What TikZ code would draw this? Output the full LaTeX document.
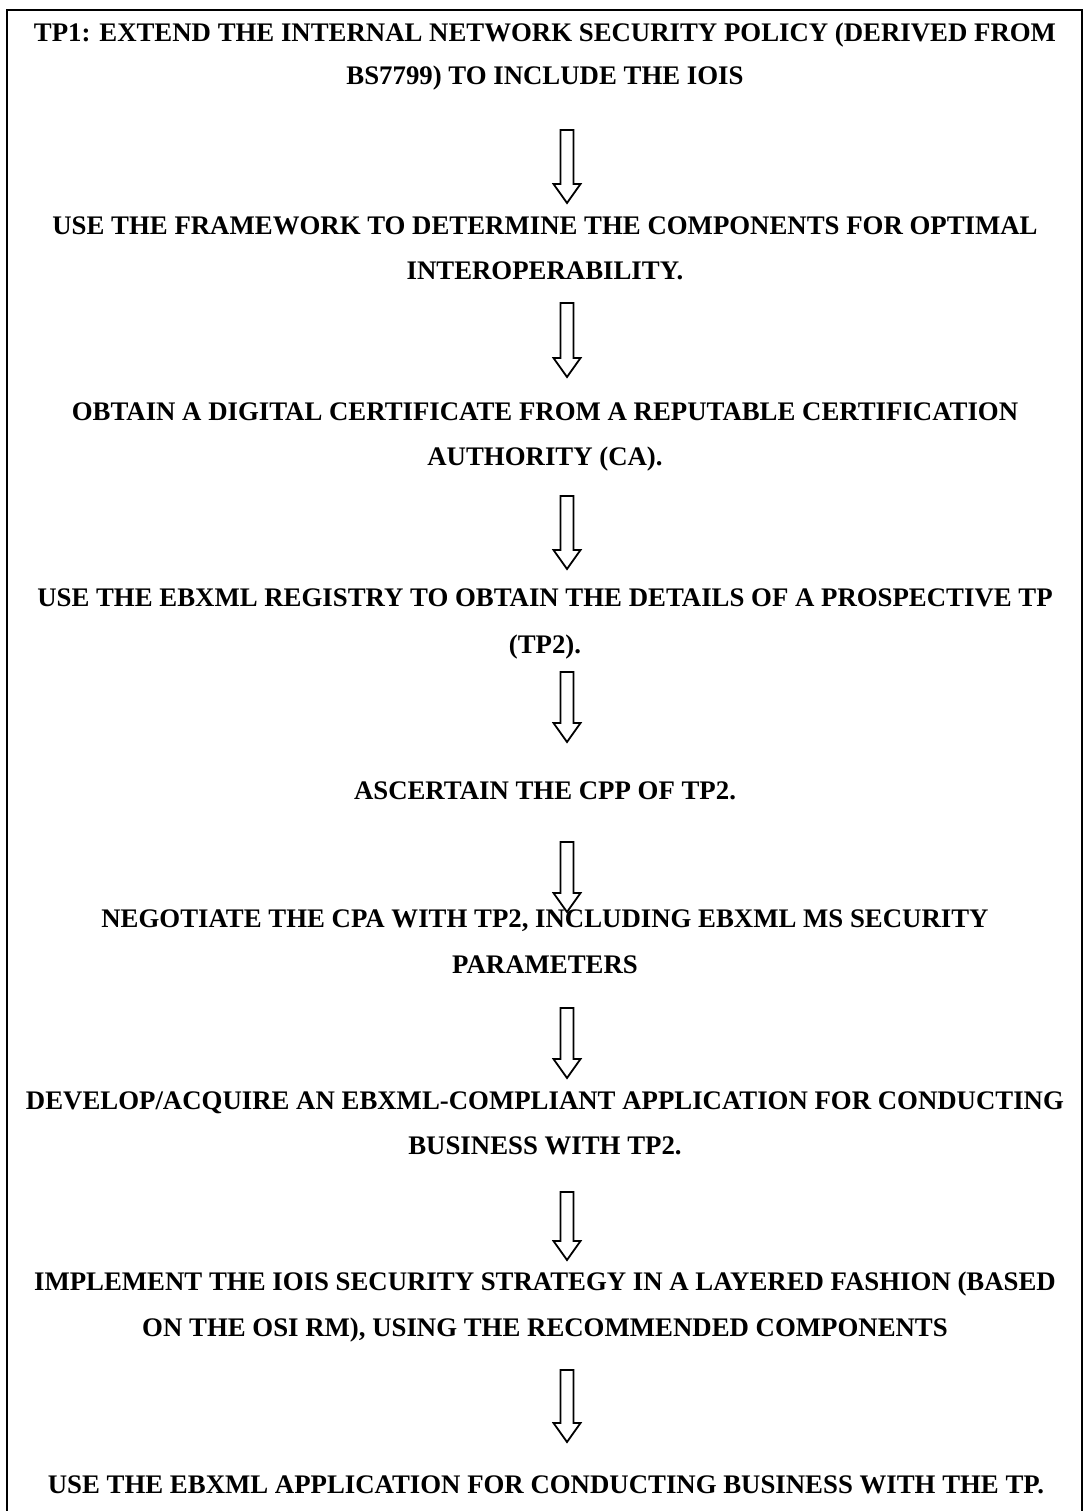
\documentclass[tikz,border=0pt]{standalone}
\usepackage{fontspec}
\setmainfont{Liberation Serif}
\usetikzlibrary{calc}
\tikzset{
  stepline/.style={anchor=base, inner sep=0pt, font=\bfseries\fontsize{26.8}{32}\selectfont},
  blockarr/.style={draw=black, line width=1.8pt, line join=miter, fill=white},
  frame/.style={draw=black, line width=1.5pt}
}
\newcommand\blockarrow[2]{%
  \draw[blockarr] ($(#1)+(-6.5,0)$) -- ($(#1)+(6.5,0)$) -- ($(#2)+(6.5,-19)$) -- ($(#2)+(13.5,-19)$) -- (#2) -- ($(#2)+(-13.5,-19)$) -- ($(#2)+(-6.5,-19)$) -- cycle;}
\begin{document}
\begin{tikzpicture}[x=1pt,y=-1pt]
\useasboundingbox (0,0) rectangle (1086,1511);
\coordinate (fbl) at (7,1511);
\coordinate (ftl) at (7,10);
\coordinate (ftr) at (1082,10);
\coordinate (fbr) at (1082,1511);
\draw[frame] (fbl) -- (ftl) -- (ftr) -- (fbr);

\node[stepline] (l1) at (545,42) {TP1: EXTEND THE INTERNAL NETWORK SECURITY POLICY (DERIVED FROM};
\node[stepline] (l2) at (545,85) {BS7799) TO INCLUDE THE IOIS};
\node[stepline] (l3) at (545,235) {USE THE FRAMEWORK TO DETERMINE THE COMPONENTS FOR OPTIMAL};
\node[stepline] (l4) at (545,280) {INTEROPERABILITY.};
\node[stepline] (l5) at (545,420) {OBTAIN A DIGITAL CERTIFICATE FROM A REPUTABLE CERTIFICATION};
\node[stepline] (l6) at (545,465) {AUTHORITY (CA).};
\node[stepline] (l7) at (545,606) {USE THE EBXML REGISTRY TO OBTAIN THE DETAILS OF A PROSPECTIVE TP};
\node[stepline] (l8) at (545,653) {(TP2).};
\node[stepline] (l9) at (545,799) {ASCERTAIN THE CPP OF TP2.};
\node[stepline] (l10) at (545,927) {NEGOTIATE THE CPA WITH TP2, INCLUDING EBXML MS SECURITY};
\node[stepline] (l11) at (545,973) {PARAMETERS};
\node[stepline] (l12) at (545,1109) {DEVELOP/ACQUIRE AN EBXML-COMPLIANT APPLICATION FOR CONDUCTING};
\node[stepline] (l13) at (545,1154) {BUSINESS WITH TP2.};
\node[stepline] (l14) at (545,1290) {IMPLEMENT THE IOIS SECURITY STRATEGY IN A LAYERED FASHION (BASED};
\node[stepline] (l15) at (545,1336) {ON THE OSI RM), USING THE RECOMMENDED COMPONENTS};
\node[stepline] (l16) at (546,1493) {USE THE EBXML APPLICATION FOR CONDUCTING BUSINESS WITH THE TP.};

\coordinate (a1s) at (567,130);  \coordinate (a1e) at (567,203);
\coordinate (a2s) at (567,303);  \coordinate (a2e) at (567,377);
\coordinate (a3s) at (567,496);  \coordinate (a3e) at (567,569);
\coordinate (a4s) at (567,672);  \coordinate (a4e) at (567,742);
\coordinate (a5s) at (567,842);  \coordinate (a5e) at (567,912);
\coordinate (a6s) at (567,1008); \coordinate (a6e) at (567,1078);
\coordinate (a7s) at (567,1192); \coordinate (a7e) at (567,1260);
\coordinate (a8s) at (567,1370); \coordinate (a8e) at (567,1442);
\blockarrow{a1s}{a1e}
\blockarrow{a2s}{a2e}
\blockarrow{a3s}{a3e}
\blockarrow{a4s}{a4e}
\blockarrow{a5s}{a5e}
\blockarrow{a6s}{a6e}
\blockarrow{a7s}{a7e}
\blockarrow{a8s}{a8e}
\end{tikzpicture}
\end{document}
